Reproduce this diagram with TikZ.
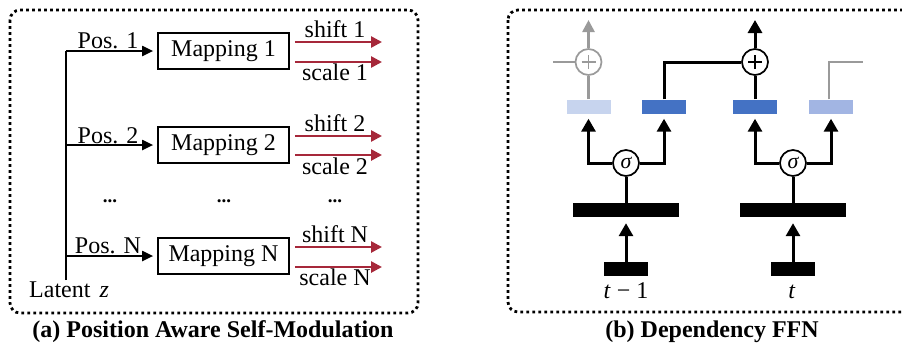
\documentclass[tikz,border=0pt]{standalone}
\usepackage{fontspec}
\setmainfont{Liberation Serif}
\usetikzlibrary{arrows.meta}
\definecolor{darkred}{HTML}{A6283A}
\definecolor{blueA}{HTML}{4472C4}
\definecolor{blueL}{HTML}{C7D4EE}
\definecolor{blueM}{HTML}{A2B5E3}
\definecolor{grayline}{HTML}{9A9A9A}
\tikzset{
  txt/.style={font=\fontsize{24}{28}\selectfont, inner sep=0pt},
  captext/.style={font=\fontsize{24}{28}\selectfont\bfseries, inner sep=0pt},
  dotstxt/.style={font=\fontsize{19}{22}\selectfont\bfseries, inner sep=0pt},
  dotbox/.style={line width=2.8pt, dash pattern=on 2.8pt off 3.2pt, rounded corners=10pt},
  mapbox/.style={draw, line width=1.7pt, minimum width=131pt, minimum height=36pt, inner sep=0pt, font=\fontsize{24}{28}\selectfont},
  larrow/.style={line width=2pt, -{Triangle[length=11pt,width=10pt]}},
  rarrow/.style={line width=2.6pt, darkred, -{Triangle[length=11pt,width=11pt]}},
  barbox/.style={minimum height=14pt, inner sep=0pt, draw=none},
  smallbar/.style={barbox, minimum width=44pt},
  bigbar/.style={barbox, minimum width=106pt},
  opc/.style={circle, draw, line width=1.7pt, minimum size=26pt, inner sep=0pt, fill=white},
  pluscirc/.style={opc, path picture={\draw[line width=1.7pt] ([xshift=-7pt]path picture bounding box.center) -- ([xshift=7pt]path picture bounding box.center); \draw[line width=1.7pt] ([yshift=-7pt]path picture bounding box.center) -- ([yshift=7pt]path picture bounding box.center);}},
  bline/.style={line width=3pt},
  barrow/.style={line width=3pt, -{Triangle[length=13pt,width=14pt]}},
}
\begin{document}
\begin{tikzpicture}[x=1pt,y=-1pt]
\useasboundingbox (0,0) rectangle (902,346);
\clip (0,0) rectangle (902,346);
% ---------- panel (a) ----------
\draw[dotbox] (10,10) rectangle (418,313);
\node[mapbox] (m1) at (223.5,51) {Mapping 1};
\node[mapbox] (m2) at (223.5,145) {Mapping 2};
\node[mapbox] (mN) at (223.5,256) {Mapping N};
\coordinate (bot) at (66,280);
\coordinate (j1) at (66,51);
\coordinate (j2) at (66,145);
\coordinate (jN) at (66,256);
\draw[line width=2pt] (bot) -- (j1);
\draw[larrow, shorten >=4pt] (j1) -- (m1.west);
\draw[larrow, shorten >=4pt] (j2) -- (m2.west);
\draw[larrow, shorten >=4pt] (jN) -- (mN.west);
\node[txt, anchor=base] (p1) at (108,48) {Pos. 1};
\node[txt, anchor=base] (p2) at (108,143) {Pos. 2};
\node[txt, anchor=base] (pN) at (108,253) {Pos. N};
% red outputs
\coordinate (sh1) at (382,42); \coordinate (sc1) at (382,62);
\coordinate (sh2) at (382,136); \coordinate (sc2) at (382,155);
\coordinate (shN) at (382,247); \coordinate (scN) at (382,267);
\draw[rarrow] ([xshift=5pt]m1.east |- sh1) -- (sh1);
\draw[rarrow] ([xshift=5pt]m1.east |- sc1) -- (sc1);
\draw[rarrow] ([xshift=5pt]m2.east |- sh2) -- (sh2);
\draw[rarrow] ([xshift=5pt]m2.east |- sc2) -- (sc2);
\draw[rarrow] ([xshift=5pt]mN.east |- shN) -- (shN);
\draw[rarrow] ([xshift=5pt]mN.east |- scN) -- (scN);
\node[txt, anchor=base] (tsh1) at (335,37) {shift 1};
\node[txt, anchor=base] (tsc1) at (335,80) {scale 1};
\node[txt, anchor=base] (tsh2) at (335,131) {shift 2};
\node[txt, anchor=base] (tsc2) at (335,174) {scale 2};
\node[txt, anchor=base] (tshN) at (335,242) {shift N};
\node[txt, anchor=base] (tscN) at (335,285) {scale N};
\node[dotstxt] (d1) at (110,201) {...};
\node[dotstxt] (d2) at (224,201) {...};
\node[dotstxt] (d3) at (335,201) {...};
\node[txt, anchor=base west] (lat) at (29,297) {Latent\hspace{9pt}\textit{z}};
\node[captext, anchor=base] (capa) at (213,337) {(a) Position Aware Self-Modulation};
% ---------- panel (b) ----------
\draw[dotbox] (508,10) rectangle (940,312);
\node[smallbar, fill=blueL] (r1) at (588.5,106.5) {};
\node[smallbar, fill=blueA] (r2) at (664,106.5) {};
\node[smallbar, fill=blueA] (r3) at (755,106.5) {};
\node[smallbar, fill=blueM] (r4) at (831,106.5) {};
\node[bigbar, fill=black] (B1) at (626,210) {};
\node[bigbar, fill=black] (B2) at (793,210) {};
\node[smallbar, fill=black] (S1) at (626,269) {};
\node[smallbar, fill=black] (S2) at (793,269) {};
\node[opc, font=\fontsize{22}{24}\selectfont\itshape] (g1) at (626,163) {σ};
\node[opc, font=\fontsize{22}{24}\selectfont\itshape] (g2) at (793,163) {σ};
\node[pluscirc, draw=grayline, path picture={\draw[grayline, line width=1.7pt] ([xshift=-7pt]path picture bounding box.center) -- ([xshift=7pt]path picture bounding box.center); \draw[grayline, line width=1.7pt] ([yshift=-7pt]path picture bounding box.center) -- ([yshift=7pt]path picture bounding box.center);}] (pl1) at (588.5,62) {};
\node[pluscirc] (pl2) at (755,62) {};
\coordinate (out1) at (588.5,20);
\coordinate (out2) at (755,20);
\coordinate (in1) at (553,62);
\coordinate (end4) at (863,62);
% bottom arrows
\draw[barrow, shorten >=6pt] (S1.north) -- (B1.south);
\draw[barrow, shorten >=6pt] (S2.north) -- (B2.south);
\draw[bline] (B1.north) -- (g1.south);
\draw[bline] (B2.north) -- (g2.south);
\draw[barrow, shorten >=5pt] (g1.west) -| (r1.south);
\draw[barrow, shorten >=5pt] (g1.east) -| (r2.south);
\draw[barrow, shorten >=5pt] (g2.west) -| (r3.south);
\draw[barrow, shorten >=5pt] (g2.east) -| (r4.south);
% top
\draw[line width=2.6pt, grayline] (r1.north) -- (pl1.south);
\draw[line width=2.6pt, grayline] (in1) -- (pl1.west);
\draw[line width=2.6pt, grayline, -{Triangle[length=12pt,width=12pt]}] (pl1.north) -- (out1);
\draw[bline] (r2.north) |- (pl2.west);
\draw[bline] (r3.north) -- (pl2.south);
\draw[barrow] (pl2.north) -- (out2);
\draw[line width=2.6pt, grayline] ([xshift=-2pt]r4.north) |- (end4);
\node[txt, anchor=base] (tm1) at (626,298) {\textit{t} − 1};
\node[txt, anchor=base] (tt) at (792,298) {\textit{t}};
\node[captext, anchor=base] (capb) at (712,337) {(b) Dependency FFN};
\end{tikzpicture}
\end{document}
